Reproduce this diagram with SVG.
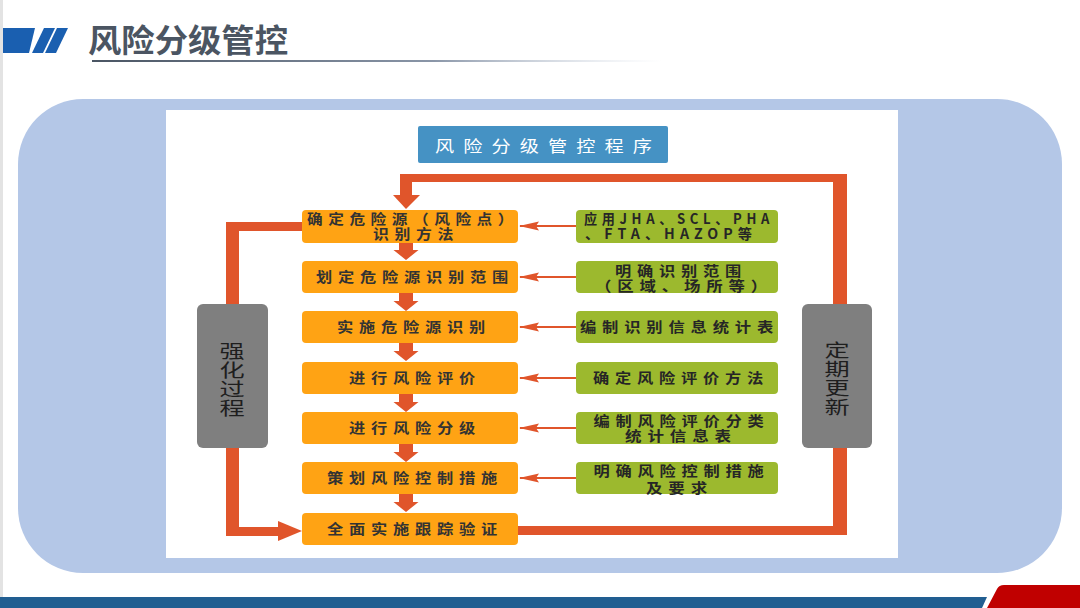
<svg xmlns="http://www.w3.org/2000/svg" width="1080" height="608" viewBox="0 0 1080 608">
<defs>
<style>
.cjk{font-family:"Noto Sans CJK SC","Liberation Sans",sans-serif;}
.ob{fill:#ffa314;}
.gb{fill:#9cb92e;}
.gy{fill:#7f7f7f;}
.ln{fill:#e0552b;}
.ot{font-size:14px;font-weight:bold;fill:#333333;letter-spacing:5px;text-anchor:middle;}
.gt{font-size:14px;font-weight:bold;fill:#262626;letter-spacing:5px;text-anchor:middle;}
.vt{font-size:18px;fill:#1e1e1e;writing-mode:vertical-rl;letter-spacing:1px;}
</style>
<linearGradient id="ul" x1="0" y1="0" x2="1" y2="0">
<stop offset="0" stop-color="#4a5563"/>
<stop offset="0.6" stop-color="#8a96a8"/>
<stop offset="1" stop-color="#c8d2e0" stop-opacity="0"/>
</linearGradient>
<marker id="ah" markerUnits="userSpaceOnUse" markerWidth="20" markerHeight="10" viewBox="0 0 20 10" refX="19" refY="5" orient="auto">
<path d="M0,0.5 L20,5 L0,9.5 L3,5 Z" fill="#e0552b"/>
</marker>
<path id="darr" d="M-7,0 H7 V8 H12.5 L0,18 L-12.5,8 H-7 Z" fill="#e0552b"/>
</defs>

<rect x="0" y="0" width="1080" height="608" fill="#ffffff"/>
<rect x="0" y="0" width="3" height="608" fill="#e3e3e3"/>

<g id="header">
<polygon points="3,28 35,28 29,53 3,53" fill="#1a5fb0"/>
<polygon points="44,28 55,28 43,53 32,53" fill="#1a5fb0"/>
<polygon points="57,28 68,28 56,53 45,53" fill="#1a5fb0"/>
<text class="cjk" x="88" y="52" font-size="32" font-weight="bold" fill="#4b5562" textLength="200" lengthAdjust="spacingAndGlyphs">风险分级管控</text>
<rect x="92" y="60" width="570" height="2" fill="url(#ul)"/>
</g>

<g id="footer">
<polygon points="0,597 987,597 982,608 0,608" fill="#215e91"/>
<path d="M987,608 L997,589 Q999,585 1004,585 L1080,585 L1080,608 Z" fill="#c00000"/>
</g>

<rect id="panel" x="18" y="99" width="1044" height="474" rx="65" ry="65" fill="#b4c7e7"/>
<rect id="canvas" x="166" y="110" width="732" height="448" fill="#ffffff"/>

<g id="title-box">
<rect x="418" y="126" width="250" height="37" rx="2" fill="#4592c4"/>
<text class="cjk" x="548" y="152" font-size="16" fill="#ffffff" letter-spacing="7.6" text-anchor="middle" textLength="226" lengthAdjust="spacingAndGlyphs">风险分级管控程序</text>
</g>

<g id="connectors">
<!-- update loop (right) -->
<rect class="ln" x="833" y="174" width="14" height="131"/>
<rect class="ln" x="400" y="174" width="447" height="8"/>
<rect class="ln" x="400" y="174" width="12" height="22"/>
<polygon class="ln" points="393,195 420,195 406,209"/>
<rect class="ln" x="833" y="447" width="14" height="88"/>
<rect class="ln" x="518" y="526" width="329" height="9"/>
<!-- strengthen loop (left) -->
<rect class="ln" x="226" y="222" width="76" height="9"/>
<rect class="ln" x="226" y="222" width="13" height="83"/>
<rect class="ln" x="226" y="447" width="13" height="89"/>
<rect class="ln" x="226" y="527" width="54" height="9"/>
<polygon class="ln" points="278,521 302,531 278,541"/>
<!-- down arrows -->
<use href="#darr" x="406" y="242"/>
<use href="#darr" x="406" y="293"/>
<use href="#darr" x="406" y="343"/>
<use href="#darr" x="406" y="394"/>
<use href="#darr" x="406" y="444"/>
<use href="#darr" x="406" y="494"/>
<!-- input arrows -->
<g stroke="#e0552b" stroke-width="2" marker-end="url(#ah)">
<line x1="576" y1="226" x2="520" y2="226"/>
<line x1="576" y1="277" x2="520" y2="277"/>
<line x1="576" y1="327" x2="520" y2="327"/>
<line x1="576" y1="378" x2="520" y2="378"/>
<line x1="576" y1="428" x2="520" y2="428"/>
<line x1="576" y1="478" x2="520" y2="478"/>
</g>
</g>

<g id="step1"><rect class="ob" x="302" y="210" width="216" height="33" rx="4"/>
<text class="cjk ot"><tspan x="413" y="224" textLength="212" lengthAdjust="spacingAndGlyphs">确定危险源（风险点）</tspan><tspan x="416" y="239" textLength="86" lengthAdjust="spacingAndGlyphs">识别方法</tspan></text></g>
<g id="step2"><rect class="ob" x="302" y="261" width="216" height="32" rx="4"/>
<text class="cjk ot" x="415" y="282" textLength="198" lengthAdjust="spacingAndGlyphs">划定危险源识别范围</text></g>
<g id="step3"><rect class="ob" x="302" y="311" width="216" height="32" rx="4"/>
<text class="cjk ot" x="414" y="332" textLength="154" lengthAdjust="spacingAndGlyphs">实施危险源识别</text></g>
<g id="step4"><rect class="ob" x="302" y="362" width="216" height="32" rx="4"/>
<text class="cjk ot" x="415" y="383" textLength="132" lengthAdjust="spacingAndGlyphs">进行风险评价</text></g>
<g id="step5"><rect class="ob" x="302" y="412" width="216" height="32" rx="4"/>
<text class="cjk ot" x="415" y="433" textLength="132" lengthAdjust="spacingAndGlyphs">进行风险分级</text></g>
<g id="step6"><rect class="ob" x="302" y="462" width="216" height="32" rx="4"/>
<text class="cjk ot" x="415" y="483" textLength="176" lengthAdjust="spacingAndGlyphs">策划风险控制措施</text></g>
<g id="step7"><rect class="ob" x="302" y="513" width="216" height="32" rx="4"/>
<text class="cjk ot" x="415" y="534" textLength="176" lengthAdjust="spacingAndGlyphs">全面实施跟踪验证</text></g>

<g id="input1"><rect class="gb" x="576" y="210" width="202" height="33" rx="4"/>
<text class="cjk gt" letter-spacing="3"><tspan x="679" y="224" textLength="190" lengthAdjust="spacingAndGlyphs">应用JHA、SCL、PHA</tspan><tspan x="671" y="239" textLength="172" lengthAdjust="spacingAndGlyphs">、FTA、HAZOP等</tspan></text></g>
<g id="input2"><rect class="gb" x="576" y="261" width="202" height="32" rx="4"/>
<text class="cjk gt"><tspan x="681" y="276" textLength="132" lengthAdjust="spacingAndGlyphs">明确识别范围</tspan><tspan x="684" y="291" textLength="178" lengthAdjust="spacingAndGlyphs">（区域、场所等）</tspan></text></g>
<g id="input3"><rect class="gb" x="576" y="311" width="202" height="32" rx="4"/>
<text class="cjk gt" x="679.5" y="332" textLength="199" lengthAdjust="spacingAndGlyphs">编制识别信息统计表</text></g>
<g id="input4"><rect class="gb" x="576" y="362" width="202" height="32" rx="4"/>
<text class="cjk gt" x="681" y="383" textLength="176" lengthAdjust="spacingAndGlyphs">确定风险评价方法</text></g>
<g id="input5"><rect class="gb" x="576" y="412" width="202" height="32" rx="4"/>
<text class="cjk gt"><tspan x="681.5" y="426" textLength="176" lengthAdjust="spacingAndGlyphs">编制风险评价分类</tspan><tspan x="681" y="441" textLength="112" lengthAdjust="spacingAndGlyphs">统计信息表</tspan></text></g>
<g id="input6"><rect class="gb" x="576" y="462" width="202" height="32" rx="4"/>
<text class="cjk gt"><tspan x="681.5" y="476" textLength="176" lengthAdjust="spacingAndGlyphs">明确风险控制措施</tspan><tspan x="679.5" y="493" textLength="67" lengthAdjust="spacingAndGlyphs">及要求</tspan></text></g>

<g id="strengthen"><rect class="gy" x="197" y="304" width="71" height="144" rx="6"/>
<text class="cjk vt" x="232" y="342" transform="translate(232,0) scale(1.4,1) translate(-232,0)">强化过程</text></g>
<g id="update"><rect class="gy" x="802" y="304" width="70" height="144" rx="6"/>
<text class="cjk vt" x="837" y="341" transform="translate(837,0) scale(1.4,1) translate(-837,0)">定期更新</text></g>
</svg>
